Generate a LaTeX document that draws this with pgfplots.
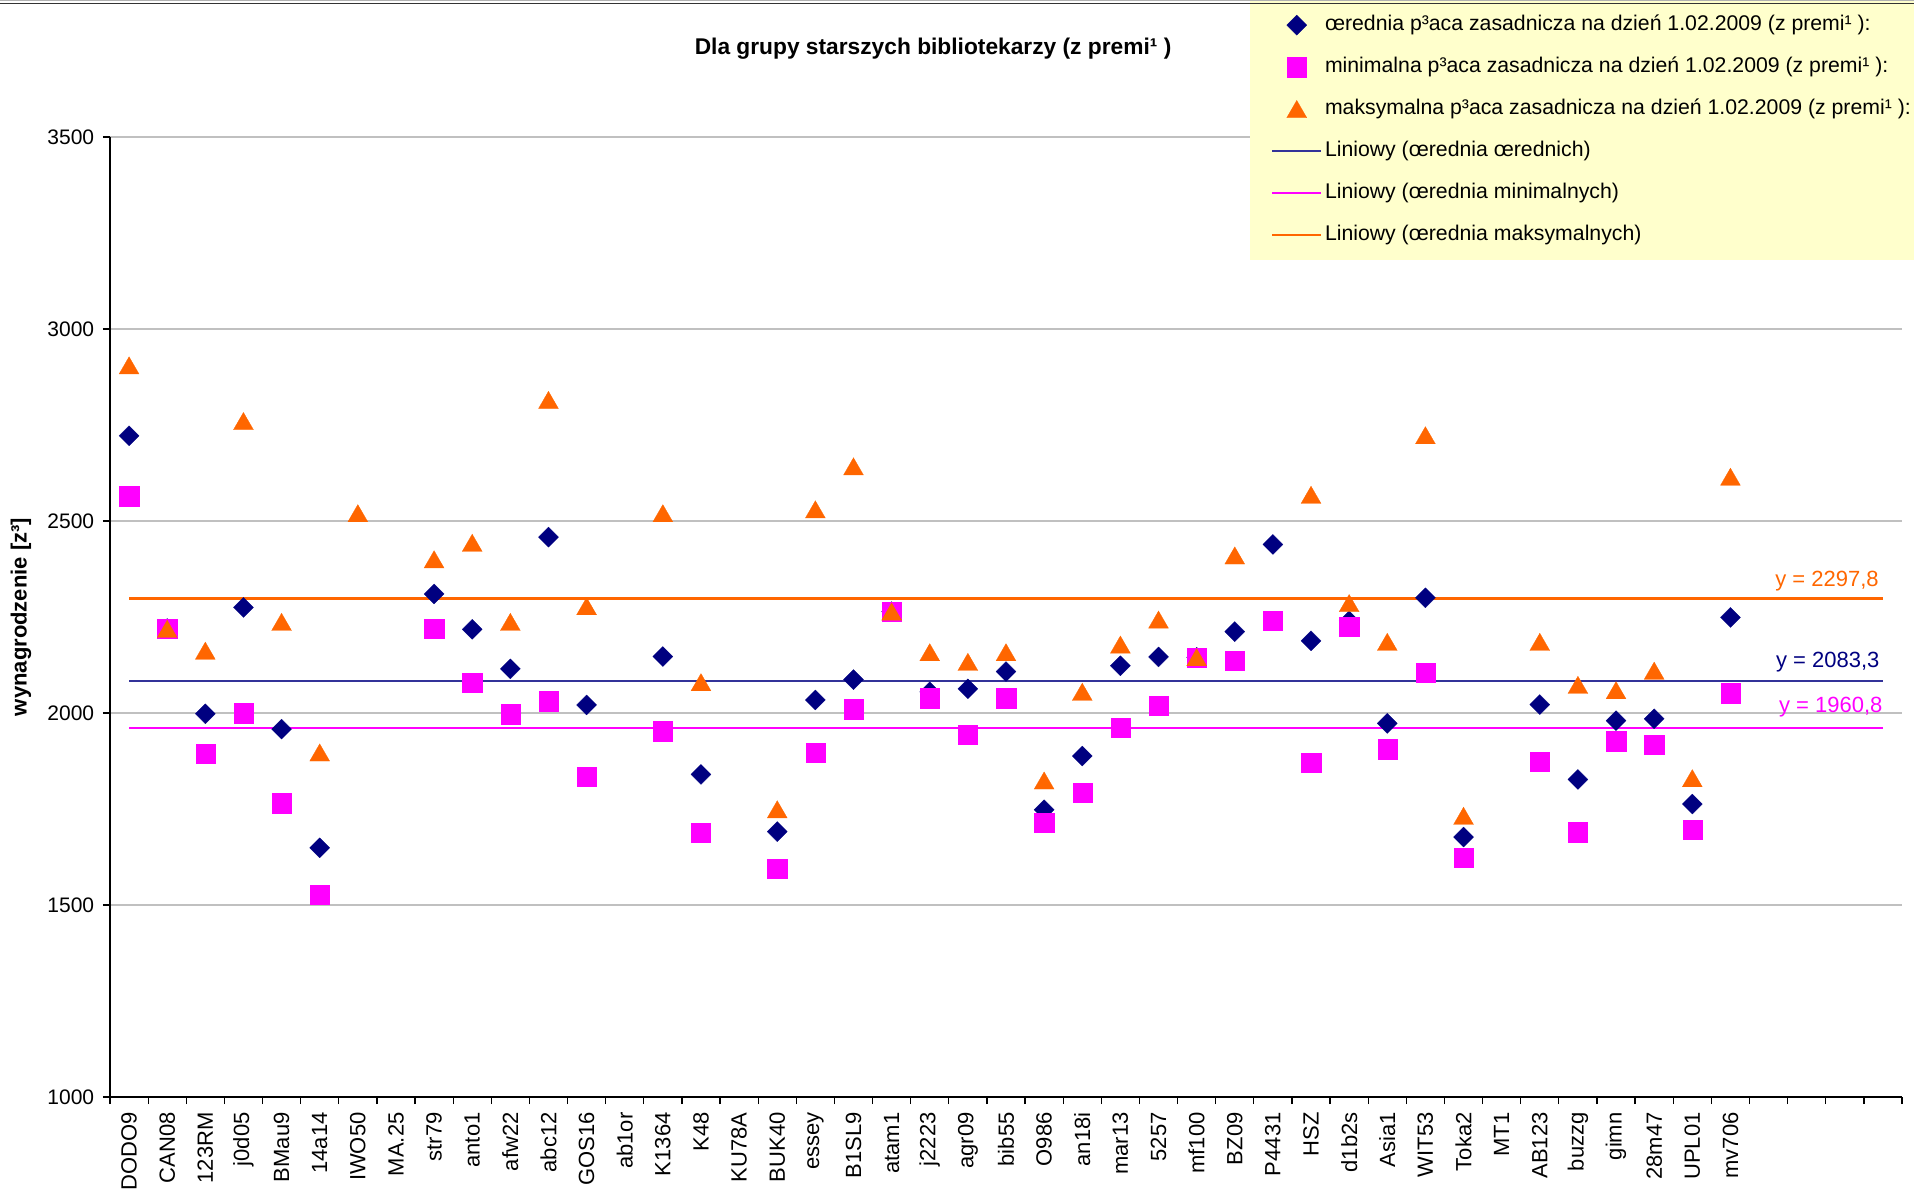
\documentclass[border=0pt]{standalone}
\usepackage{fontspec}
\setmainfont{Liberation Sans}
\usepackage{pgfplots}
\usepackage{pgfplotstable}
\pgfplotsset{compat=1.18}

\definecolor{sredc}{HTML}{000080}
\definecolor{minc}{HTML}{FF00FF}
\definecolor{maxc}{HTML}{FF6600}
\definecolor{trendblue}{HTML}{333399}
\definecolor{legbg}{HTML}{FFFFCC}
\definecolor{gridc}{HTML}{C0C0C0}
\newcommand{\fs}{\fontsize{8.4}{10}\selectfont}
\newcommand{\fsb}{\fontsize{8.8}{10.5}\selectfont}
\newcommand{\fsl}{\fontsize{8.5}{10.2}\selectfont}

% srednia placa (romby)
\pgfplotstableread{
x y
0 2722
1 2220
2 1998
3 2275
4 1958
5 1649
8 2310
9 2218
10 2115
11 2458
12 2021
14 2147
15 1840
17 1691
18 2034
19 2087
20 2264
21 2055
22 2063
23 2108
24 1748
25 1888
26 2123
27 2146
28 2145
29 2212
30 2439
31 2188
32 2240
33 1973
34 2300
35 1677
37 2022
38 1827
39 1980
40 1985
41 1763
42 2249
}\srednie

% minimalna placa (kwadraty)
\pgfplotstableread{
x y
0 2565
1 2219
2 1895
3 2000
4 1765
5 1528
8 2219
9 2080
10 1997
11 2031
12 1835
14 1953
15 1689
17 1594
18 1897
19 2010
20 2264
21 2039
22 1943
23 2039
24 1715
25 1792
26 1961
27 2020
28 2145
29 2136
30 2240
31 1870
32 2225
33 1906
34 2105
35 1624
37 1874
38 1690
39 1927
40 1918
41 1696
42 2052
}\minimalne

% maksymalna placa (trojkaty)
\pgfplotstableread{
x y
0 2905
1 2219
2 2162
3 2760
4 2237
5 1897
6 2520
8 2400
9 2443
10 2237
11 2815
12 2278
14 2520
15 2080
17 1749
18 2530
19 2642
20 2264
21 2158
22 2133
23 2158
24 1824
25 2055
26 2178
27 2243
28 2145
29 2410
31 2568
32 2286
33 2185
34 2723
35 1732
37 2185
38 2073
39 2059
40 2110
41 1830
42 2615
}\maksymalne

\begin{document}
\begin{tikzpicture}[font=\fs]
\useasboundingbox (-44pt,-38.8pt) rectangle (721.6pt,438.8pt);
\begin{axis}[
  at={(0,0)}, anchor=south west,
  scale only axis, width=716.8pt, height=384pt,
  xmin=-0.5, xmax=46.5, ymin=1000, ymax=3500,
  axis x line*=bottom, axis y line*=left,
  axis line style={-, black, line width=0.5pt},
  ytick={1000,1500,...,3500},
  ymajorgrids, grid style={gridc, line width=0.5pt},
  tick align=outside, major tick length=2.8pt,
  tick style={black, line width=0.5pt},
  xtick={-0.5,0.5,...,46.5}, xticklabels={},
  extra x ticks={0,1,...,42},
  extra x tick labels={DODO9,CAN08,123RM,j0d05,BMau9,14a14,IWO50,MA.25,str79,anto1,afw22,abc12,GOS16,ab1or,K1364,K48,KU78A,BUK40,essey,B1SL9,atam1,j2223,agr09,bib55,O986,an18i,mar13,5257,mf100,BZ09,P4431,HSZ,d1b2s,Asia1,WIT53,Toka2,MT1,AB123,buzzg,gimn,28m47,UPL01,mv706},
  extra x tick style={major tick length=0pt},
  ticklabel style={font=\fs},
  xticklabel style={rotate=90, anchor=east, inner xsep=6pt, inner ysep=0pt, font=\fsb},
  /pgf/number format/1000 sep={},
  /pgf/number format/assume math mode=true,
  ylabel={\fsb\bfseries wynagrodzenie [z³]},
  ylabel style={at={(axis description cs:0,0.5)}, anchor=center, yshift=35.6pt},
  title={\fontsize{9.1}{11}\selectfont\bfseries Dla grupy starszych bibliotekarzy (z premi¹ )},
  title style={at={(axis description cs:0.4593,1)}, anchor=center, yshift=29.2pt},
  legend cell align=left,
  legend style={at={(axis description cs:0,1)}, anchor=north west,
    xshift=455.6pt, yshift=54.8pt, fill=legbg, draw=none, font=\fsl,
    inner xsep=8.6pt, inner ysep=5.6pt, row sep=8.3pt,
    nodes={inner xsep=1pt, inner ysep=0pt, text height=6.5pt, text depth=2pt}},
  legend image code/.code={\draw[mark repeat=2, mark phase=2, #1] plot coordinates {(0pt,0pt)(9.8pt,0pt)(19.6pt,0pt)};},
]
% linie trendu (srednie)
\addplot[trendblue, line width=1pt, forget plot] coordinates {(0,2083.3)(46,2083.3)};
\addplot[minc, line width=1pt, forget plot] coordinates {(0,1960.8)(46,1960.8)};
\addplot[maxc, line width=1pt, forget plot] coordinates {(0,2297.8)(46,2297.8)};

\addplot[only marks, color=sredc, mark=square*, mark size=2.83pt,
  mark options={rotate=45, fill=sredc, draw=sredc, line width=0.1pt}] table[x=x, y=y] {\srednie};
\addplot[only marks, color=minc, mark=square*, mark size=3.85pt,
  mark options={fill=minc, draw=minc, line width=0.1pt}] table[x=x, y=y] {\minimalne};
\addplot[only marks, color=maxc, mark=triangle*, mark size=4.6pt,
  mark options={fill=maxc, draw=maxc, line width=0.1pt, yshift=-1.1pt}] table[x=x, y=y] {\maksymalne};

\addlegendimage{trendblue, line width=1pt}
\addlegendimage{minc, line width=1pt}
\addlegendimage{maxc, line width=1pt}

\legend{œrednia p³aca zasadnicza na dzień 1.02.2009 (z premi¹ ):,
  minimalna p³aca zasadnicza na dzień 1.02.2009 (z premi¹ ):,
  maksymalna p³aca zasadnicza na dzień 1.02.2009 (z premi¹ ):,
  Liniowy (œrednia œrednich),
  Liniowy (œrednia minimalnych),
  Liniowy (œrednia maksymalnych)}

\node[anchor=base east, inner sep=0pt, text=maxc, yshift=5pt, font=\fsb] at (axis cs:45.9,2297.8) {y = 2297,8};
\node[anchor=base east, inner sep=0pt, text=sredc, yshift=5.4pt, font=\fsb] at (axis cs:45.92,2083.3) {y = 2083,3};
\node[anchor=base east, inner sep=0pt, text=minc, yshift=6.2pt, font=\fsb] at (axis cs:46.0,1960.8) {y = 1960,8};
\end{axis}
\draw[gray!60, line width=0.5pt] (-44pt,438.5pt) -- (721.6pt,438.5pt);
\draw[black!80, line width=0.7pt] (-44pt,437.4pt) -- (721.6pt,437.4pt);
\end{tikzpicture}
\end{document}
